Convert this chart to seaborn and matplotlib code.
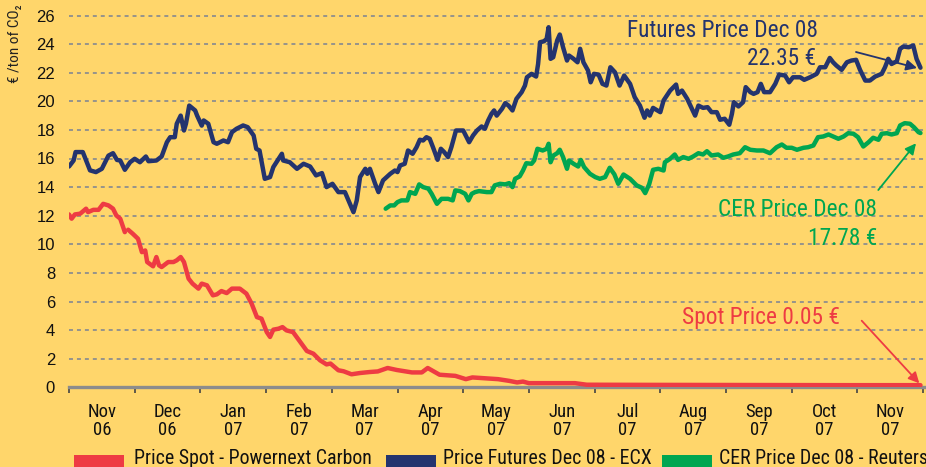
import numpy as np
import pandas as pd
import matplotlib
matplotlib.use("Agg")
import matplotlib.pyplot as plt
import seaborn as sns
from matplotlib.patches import Rectangle
from matplotlib import font_manager as fm

# ---------------- data (x = months since 1 Nov 2006) ----------------
month_labels = ["Nov\n06", "Dec\n06", "Jan\n07", "Feb\n07", "Mar\n07", "Apr\n07", "May\n07",
                "Jun\n07", "Jul\n07", "Aug\n07", "Sep\n07", "Oct\n07", "Nov\n07"]
y_ticks = list(range(0, 27, 2))

futures_x = [0.00, 0.07, 0.10, 0.21, 0.32, 0.41, 0.50, 0.60, 0.67, 0.73, 0.78, 0.85, 0.93, 1.00,
             1.08, 1.17, 1.21, 1.33, 1.41, 1.49, 1.54, 1.61, 1.64, 1.70, 1.75, 1.78, 1.83, 1.92,
             1.95, 2.02, 2.05, 2.12, 2.20, 2.25, 2.35, 2.42, 2.48, 2.55, 2.65, 2.72, 2.81, 2.85,
             2.90, 2.98, 3.06, 3.11, 3.24, 3.26, 3.36, 3.47, 3.57, 3.67, 3.76, 3.85, 3.92, 4.01,
             4.10, 4.20, 4.33, 4.38, 4.43, 4.51, 4.54, 4.58, 4.66, 4.71, 4.78, 4.89, 4.96, 5.00,
             5.04, 5.11, 5.16, 5.23, 5.29, 5.34, 5.39, 5.44, 5.49, 5.54, 5.61, 5.66, 5.71, 5.77,
             5.82, 5.89, 6.00, 6.09, 6.15, 6.21, 6.28, 6.33, 6.38, 6.43, 6.47, 6.51, 6.59, 6.64,
             6.69, 6.75, 6.81, 6.89, 6.94, 6.97, 7.04, 7.11, 7.14, 7.17, 7.23, 7.27, 7.30, 7.33,
             7.37, 7.43, 7.47, 7.52, 7.58, 7.61, 7.68, 7.74, 7.78, 7.83, 7.90, 7.94, 7.99, 8.06,
             8.12, 8.18, 8.24, 8.31, 8.38, 8.45, 8.54, 8.61, 8.69, 8.76, 8.80, 8.84, 8.89, 9.00,
             9.05, 9.15, 9.24, 9.27, 9.33, 9.41, 9.45, 9.53, 9.58, 9.65, 9.72, 9.78, 9.86, 9.91,
             9.98, 10.05, 10.09, 10.12, 10.19, 10.26, 10.30, 10.37, 10.42, 10.48, 10.53, 10.58,
             10.67, 10.75, 10.81, 10.90, 10.96, 11.02, 11.13, 11.19, 11.28, 11.38, 11.43, 11.51,
             11.58, 11.63, 11.68, 11.76, 11.84, 11.91, 11.98, 12.04, 12.12, 12.19, 12.27, 12.37,
             12.42, 12.47, 12.52, 12.60, 12.65, 12.70, 12.78, 12.85, 12.90, 12.96]
futures_y = [15.44, 15.86, 16.45, 16.45, 15.17, 15.05, 15.28, 16.20, 16.37, 15.90, 15.86, 15.21,
             15.74, 15.98, 15.74, 16.14, 15.81, 15.86, 16.14, 17.14, 17.49, 17.49, 18.43, 19.00,
             17.96, 18.43, 19.70, 19.36, 19.00, 18.30, 18.66, 18.43, 17.14, 17.03, 17.26, 17.14,
             17.84, 18.08, 18.31, 18.19, 17.61, 16.68, 16.56, 14.58, 14.70, 15.40, 16.33, 15.86,
             15.74, 15.28, 15.63, 15.44, 14.82, 14.98, 14.00, 14.23, 13.65, 13.65, 12.25, 13.07,
             14.70, 15.28, 14.93, 15.28, 14.23, 13.65, 14.47, 14.93, 15.16, 15.05, 15.51, 15.63,
             16.56, 16.33, 16.79, 17.31, 17.26, 17.49, 17.38, 16.79, 15.91, 16.68, 16.45, 16.10,
             16.79, 17.96, 17.96, 17.14, 17.61, 17.96, 18.24, 18.08, 18.66, 19.12, 19.36, 19.00,
             19.47, 19.87, 19.70, 19.36, 20.17, 20.64, 21.10, 21.68, 21.92, 21.73, 22.61, 24.13,
             24.20, 24.36, 25.18, 22.97, 23.08, 24.25, 24.67, 23.78, 22.85, 23.20, 22.97, 22.73,
             23.67, 22.73, 22.15, 21.33, 21.92, 21.87, 21.22, 21.10, 22.38, 22.03, 21.10, 21.80,
             21.22, 20.29, 19.70, 18.85, 19.36, 19.00, 19.54, 19.24, 20.06, 20.75, 21.17, 20.52,
             20.75, 20.17, 19.78, 19.00, 19.70, 19.54, 19.59, 19.24, 19.24, 18.71, 18.78, 18.36,
             19.12, 19.94, 19.64, 19.94, 20.99, 20.64, 20.52, 20.64, 21.22, 20.64, 20.64, 21.22,
             21.87, 21.80, 21.33, 21.68, 21.68, 21.50, 21.68, 21.92, 22.38, 22.38, 23.03, 22.73,
             22.50, 22.20, 22.73, 22.85, 22.90, 22.20, 21.45, 21.45, 21.73, 21.92, 22.38, 22.97,
             22.61, 22.80, 23.67, 23.83, 23.78, 23.90, 22.97, 22.35]

cer_x = [4.82, 4.89, 4.95, 5.00, 5.06, 5.15, 5.19, 5.27, 5.33, 5.39, 5.47, 5.52, 5.60, 5.67,
         5.77, 5.84, 5.88, 5.95, 6.03, 6.08, 6.13, 6.18, 6.24, 6.36, 6.43, 6.48, 6.56, 6.64,
         6.70, 6.75, 6.79, 6.86, 6.91, 6.96, 7.04, 7.08, 7.13, 7.21, 7.27, 7.30, 7.33, 7.37,
         7.43, 7.47, 7.52, 7.58, 7.61, 7.68, 7.75, 7.79, 7.84, 7.93, 8.01, 8.08, 8.16, 8.23,
         8.30, 8.36, 8.44, 8.54, 8.64, 8.72, 8.77, 8.83, 8.89, 8.97, 9.05, 9.07, 9.15, 9.22,
         9.27, 9.35, 9.43, 9.50, 9.58, 9.65, 9.71, 9.78, 9.88, 9.96, 10.03, 10.11, 10.21, 10.29,
         10.37, 10.47, 10.57, 10.67, 10.77, 10.85, 10.92, 11.00, 11.08, 11.18, 11.25, 11.33,
         11.40, 11.48, 11.56, 11.63, 11.71, 11.79, 11.86, 11.94, 12.01, 12.09, 12.17, 12.24,
         12.32, 12.37, 12.45, 12.52, 12.60, 12.65, 12.72, 12.80, 12.86, 12.93, 12.96]
cer_y = [12.49, 12.72, 12.72, 12.95, 13.07, 13.07, 13.65, 13.53, 14.19, 14.00, 13.89, 13.53,
         12.83, 13.18, 13.18, 13.07, 13.77, 13.72, 13.53, 13.07, 13.53, 13.65, 13.72, 13.65,
         13.65, 14.12, 14.23, 14.19, 14.28, 14.00, 14.58, 14.75, 15.16, 15.67, 15.63, 15.86,
         16.68, 16.56, 16.68, 17.03, 15.74, 16.20, 16.37, 16.61, 16.10, 15.28, 15.86, 15.63,
         15.44, 15.90, 15.40, 14.93, 14.70, 14.58, 14.70, 15.35, 14.90, 14.23, 14.88, 14.58,
         14.12, 13.95, 13.58, 14.19, 15.21, 15.28, 15.16, 15.74, 15.98, 16.28, 15.90, 16.10,
         15.98, 16.14, 16.37, 16.28, 16.51, 16.21, 16.28, 16.05, 16.14, 16.28, 16.37, 16.79,
         16.61, 16.56, 16.56, 16.37, 16.79, 16.98, 16.75, 16.75, 16.61, 16.75, 16.79, 16.91,
         17.49, 17.54, 17.68, 17.54, 17.38, 17.54, 17.77, 17.73, 17.49, 16.84, 17.14, 17.45,
         17.31, 17.73, 17.77, 17.68, 17.77, 18.31, 18.47, 18.43, 18.19, 17.84, 17.78]

spot_x = [0.00, 0.04, 0.09, 0.17, 0.26, 0.29, 0.37, 0.45, 0.52, 0.60, 0.67, 0.72, 0.78, 0.85,
          0.90, 0.97, 1.05, 1.11, 1.16, 1.19, 1.28, 1.33, 1.37, 1.41, 1.51, 1.59, 1.64, 1.70,
          1.75, 1.82, 1.88, 1.97, 2.02, 2.10, 2.19, 2.25, 2.32, 2.40, 2.48, 2.60, 2.70, 2.78,
          2.86, 2.93, 3.01, 3.06, 3.11, 3.19, 3.25, 3.31, 3.41, 3.52, 3.62, 3.72, 3.82, 3.92,
          3.98, 4.10, 4.18, 4.30, 4.43, 4.58, 4.70, 4.85, 4.99, 5.22, 5.37, 5.46, 5.64, 5.88,
          6.04, 6.14, 6.53, 6.70, 6.82, 6.91, 7.00, 7.70, 7.88, 8.84, 10.37, 11.89, 12.96]
spot_y = [12.09, 11.79, 12.09, 12.14, 12.49, 12.25, 12.41, 12.41, 12.83, 12.72, 12.49, 12.02,
          11.79, 10.85, 11.02, 10.74, 10.39, 9.45, 9.57, 8.76, 8.46, 9.11, 8.53, 8.41, 8.76,
          8.76, 8.88, 9.11, 8.76, 7.60, 7.25, 6.90, 7.25, 7.13, 6.43, 6.50, 6.73, 6.59, 6.90,
          6.90, 6.55, 5.85, 4.91, 4.80, 3.86, 3.52, 4.03, 4.10, 4.21, 3.98, 3.86, 3.17, 2.54,
          2.35, 1.89, 1.60, 1.66, 1.19, 1.12, 0.91, 1.00, 1.07, 1.11, 1.35, 1.21, 1.04, 1.04,
          1.35, 0.88, 0.80, 0.57, 0.69, 0.57, 0.45, 0.34, 0.40, 0.29, 0.29, 0.18, 0.17, 0.16,
          0.15, 0.15]
spot_segment = [0] * 14 + [1] * (len(spot_x) - 14)

series_names = ["Price Spot - Powernext Carbon", "Price Futures Dec 08 - ECX",
                "CER Price Dec 08 - Reuters"]

# ---------------- style ----------------
BG = "#FFD66B"
RED = "#EE3B43"
NAVY = "#24346E"
GREEN = "#00A651"

sns.set_theme(style="white")
names = {f.name for f in fm.fontManager.ttflist}
narrow = None
for cand in ["Liberation Sans Narrow", "DejaVu Sans Condensed", "Roboto Condensed"]:
    if cand in names:
        narrow = cand
        break
if narrow is None:
    narrow = "Liberation Sans"
plt.rcParams["font.family"] = [narrow, "DejaVu Sans"]

W, H = 926, 467
fig = plt.figure(figsize=(W / 100, H / 100), dpi=100, facecolor=BG)
ax_left, ax_bottom_px = 69, 387.3
ax = fig.add_axes([ax_left / W, (H - ax_bottom_px) / H, (W - ax_left) / W, ax_bottom_px / H])
ax.set_facecolor(BG)

px_per_month = 65.7
px_per_unit = 14.3
ax.set_xlim(0, (W - ax_left) / px_per_month)
ax.set_ylim(0, ax_bottom_px / px_per_unit)

# grid
for yv in y_ticks[1:]:
    ax.axhline(yv, color="#8E8E8E", lw=1.3, ls=(0, (2.2, 2.2)), zorder=1)

# series
df_spot = pd.DataFrame({"m": spot_x, "v": spot_y, "seg": spot_segment})
df_fut = pd.DataFrame({"m": futures_x, "v": futures_y})
df_cer = pd.DataFrame({"m": cer_x, "v": cer_y})
sns.lineplot(data=df_fut, x="m", y="v", ax=ax, color=NAVY, lw=3.2, estimator=None,
             sort=False, zorder=4)
sns.lineplot(data=df_cer, x="m", y="v", ax=ax, color=GREEN, lw=3.2, estimator=None,
             sort=False, zorder=4)
sns.lineplot(data=df_spot, x="m", y="v", units="seg", ax=ax, color=RED, lw=3.2,
             estimator=None, sort=False, zorder=5)

# axes cosmetics
for s in ["left", "right", "top"]:
    ax.spines[s].set_visible(False)
ax.spines["bottom"].set_color("#8C8C8C")
ax.spines["bottom"].set_linewidth(2.4)
ax.spines["bottom"].set_zorder(3)
ax.set_xlabel("")
ax.set_ylabel("")

ax.set_xticks(np.arange(0, len(month_labels) + 1))
ax.set_xticklabels([""] * (len(month_labels) + 1))
ax.set_xticks(np.arange(len(month_labels)) + 0.5, minor=True)
ax.set_xticklabels(month_labels, minor=True, fontsize=13.5, linespacing=1.05)
ax.tick_params(axis="x", which="major", bottom=True, length=4, width=1.2, color="#444444",
               direction="out")
ax.tick_params(axis="x", which="minor", bottom=True, length=0, pad=11, labelcolor="#111111")
ax.set_yticks(y_ticks)
ax.set_yticklabels([str(v) for v in y_ticks], fontsize=12,
                   fontfamily=["Liberation Sans", "DejaVu Sans"])
ax.tick_params(axis="y", left=False, length=0, pad=10, labelcolor="#111111")

def dx(px):
    return (px - ax_left) / px_per_month

def dy(py):
    return (ax_bottom_px - py) / px_per_unit

# annotations
ANN = 16.8
ax.text(dx(627), dy(36.7), "Futures Price Dec 08", color=NAVY, fontsize=ANN, ha="left",
        va="baseline")
ax.text(dx(816), dy(65), "22.35 €", color=NAVY, fontsize=ANN, ha="right", va="baseline")
ax.text(dx(718), dy(216), "CER Price Dec 08", color=GREEN, fontsize=ANN, ha="left",
        va="baseline")
ax.text(dx(877), dy(245), "17.78 €", color=GREEN, fontsize=ANN, ha="right", va="baseline")
ax.text(dx(682), dy(324), "Spot Price 0.05 €", color=RED, fontsize=ANN, ha="left",
        va="baseline")

arrow_kw = dict(arrowstyle="-|>", lw=1.3, mutation_scale=16, shrinkA=0, shrinkB=0)
ax.annotate("", xy=(dx(917), dy(68)), xytext=(dx(856), dy(52)),
            arrowprops=dict(color=NAVY, **arrow_kw), zorder=6)
ax.annotate("", xy=(dx(916), dy(143.3)), xytext=(dx(878.3), dy(190)),
            arrowprops=dict(color=GREEN, **arrow_kw), zorder=6)
ax.annotate("", xy=(dx(919.3), dy(383.3)), xytext=(dx(861.7), dy(320.7)),
            arrowprops=dict(color=RED, **arrow_kw), zorder=6)

# y axis title
fig.text(15 / W, 1 - 4 / H, "€ /ton of CO₂", rotation=90, ha="center", va="top",
         fontsize=11, color="#222222")

# legend (colour swatches + labels along the bottom edge)
legend_items = [(74, 134, RED), (386, 443, NAVY), (662, 719, GREEN)]
for (sx, tx, col), name in zip(legend_items, series_names):
    fig.patches.append(Rectangle((sx / W, 0), 50 / W, 12.5 / H, transform=fig.transFigure,
                                 facecolor=col, edgecolor="none"))
    fig.text(tx / W, 1 - 464.5 / H, name, ha="left", va="baseline", fontsize=14.3,
             color="#111111")

fig.savefig("out.png", dpi=100, facecolor=BG)
